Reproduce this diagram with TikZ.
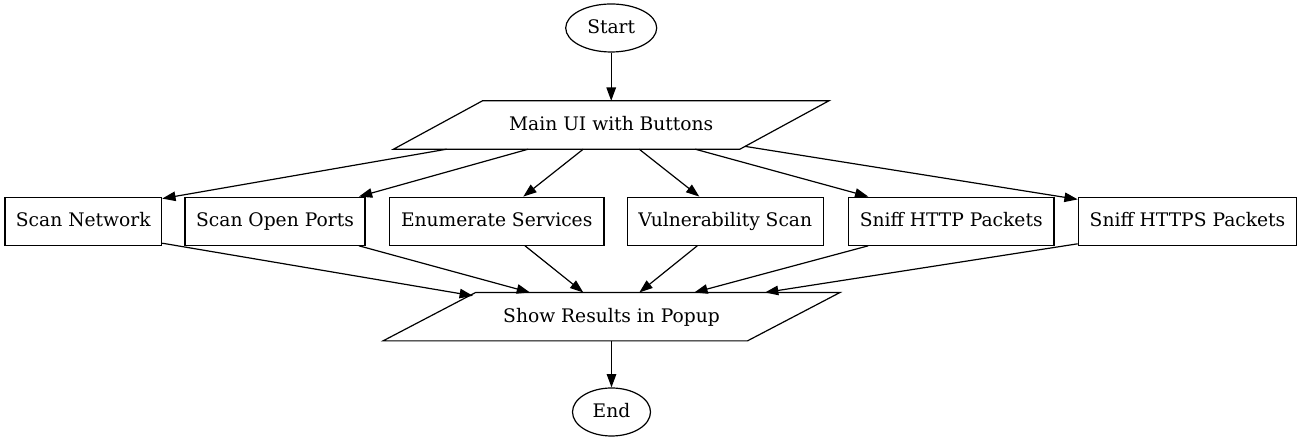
\documentclass[tikz,border=0pt]{standalone}
\usepackage{fontspec}
\setmainfont{DejaVu Serif}
\usetikzlibrary{arrows.meta,shapes.geometric}
\begin{document}
\begin{tikzpicture}[x=1bp,y=1bp,
  every node/.style={font=\fontsize{18.67bp}{22bp}\selectfont, inner sep=0pt, text height=15.6bp, text depth=4bp},
  ell/.style={ellipse, draw, line width=1.2bp, minimum height=48bp},
  boxnode/.style={rectangle, draw, line width=1.2bp, minimum height=48bp},
  para/.style={rectangle, minimum height=48bp},
  conn/.style={line width=1.2bp, -{Triangle[length=13.3bp,width=9.5bp]}}
]
\useasboundingbox (0,0) rectangle (1302,443);
\node[ell, minimum width=91bp] (start) at (611.2,415) {Start};
\node[para, minimum width=346bp] (main) at (611.2,318) {Main UI with Buttons};
\draw[line width=1.2bp] ([xshift=-44.5bp]main.south west) -- ([xshift=-44.5bp]main.south east) -- ([xshift=44.5bp]main.north east) -- ([xshift=44.5bp]main.north west) -- cycle;

\node[boxnode, minimum width=156.7bp] (sn) at (83.3,221.8) {Scan Network};
\node[boxnode, minimum width=180bp] (sop) at (275,221.8) {Scan Open Ports};
\node[boxnode, minimum width=214.7bp] (es) at (496.7,221.8) {Enumerate Services};
\node[boxnode, minimum width=196bp] (vs) at (725.3,221.8) {Vulnerability Scan};
\node[boxnode, minimum width=205.7bp] (sh) at (951.2,221.8) {Sniff HTTP Packets};
\node[boxnode, minimum width=218.4bp] (shs) at (1187.5,221.8) {Sniff HTTPS Packets};

\node[para, minimum width=364bp] (res) at (611.5,126.3) {Show Results in Popup};
\draw[line width=1.2bp] ([xshift=-46.3bp]res.south west) -- ([xshift=-46.3bp]res.south east) -- ([xshift=46.3bp]res.north east) -- ([xshift=46.3bp]res.north west) -- cycle;

\node[ell, minimum width=78bp] (end) at (611.5,31) {End};

\draw[conn] (start.south) -- (main.north);
\draw[conn] ([xshift=-164.5bp]main.south) -- ([yshift=-2bp]sn.north east);
\draw[conn] ([xshift=-83bp]main.south) -- ([xshift=-6.7bp]sop.north east);
\draw[conn] ([xshift=-28bp]main.south) -- ([xshift=26.6bp]es.north);
\draw[conn] ([xshift=28bp]main.south) -- ([xshift=-26bp]vs.north);
\draw[conn] ([xshift=84bp]main.south) -- ([xshift=-82.9bp]sh.north);
\draw[conn] ([xshift=-39.2bp,yshift=2.8bp]main.south east) -- ([yshift=-2.8bp]shs.north west);

\draw[conn] ([yshift=2.6bp]sn.south east) -- ([xshift=43.6bp,yshift=-3.3bp]res.north west);
\draw[conn] ([xshift=-6.7bp]sop.south east) -- ([xshift=-81.5bp]res.north);
\draw[conn] ([xshift=28.3bp]es.south) -- ([xshift=-28.2bp]res.north);
\draw[conn] ([xshift=-28bp]vs.south) -- ([xshift=27.8bp]res.north);
\draw[conn] ([xshift=-82.9bp]sh.south) -- ([xshift=82.8bp]res.north);
\draw[conn] ([yshift=2bp]shs.south west) -- ([xshift=153.5bp]res.north);

\draw[conn] (res.south) -- (end.north);
\end{tikzpicture}
\end{document}
